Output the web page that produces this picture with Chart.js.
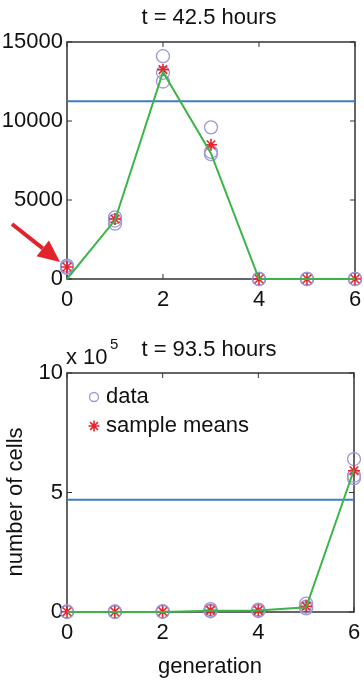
<!DOCTYPE html>
<html><head><meta charset="utf-8">
<script src="https://cdn.jsdelivr.net/npm/chart.js@4.4.1/dist/chart.umd.min.js"></script>
<style>
html,body{margin:0;padding:0;background:#fff;overflow:hidden}
#wrap{position:relative;width:364px;height:682px}
#c1{position:absolute;left:0;top:0;width:364px;height:320px}
#c2{position:absolute;left:0;top:300px;width:364px;height:382px}
</style></head><body>
<div id="wrap"><canvas id="c1" width="364" height="320"></canvas><canvas id="c2" width="364" height="382"></canvas></div>
<script>
// ---------- data ----------
const generations = [0, 1, 2, 3, 4, 5, 6];
const xTicks = [0, 2, 4, 6];

// top panel: t = 42.5 hours
const topTitle = 't = 42.5 hours';
const topYTicks = [0, 5000, 10000, 15000];
const topRep1 = [700, 3500, 14100, 9600, 0, 0, 0];
const topRep2 = [850, 3900, 13050, 8050, 0, 0, 0];
const topRep3 = [750, 3700, 12500, 7900, 0, 0, 0];
const topMeans = [760, 3800, 13250, 8500, 0, 0, 0];
const topModel = [0, 3730, 13100, 7950, 0, 0, 0];
const topLevel = [11250];

// bottom panel: t = 93.5 hours (units of 10^5)
const botTitle = 't = 93.5 hours';
const botYTicks = [0, 5, 10];
const botRep1 = [0.02, 0.02, 0.03, 0.12, 0.10, 0.35, 6.40];
const botRep2 = [0.01, 0.01, 0.02, 0.06, 0.06, 0.22, 5.70];
const botRep3 = [0.00, 0.00, 0.01, 0.03, 0.04, 0.15, 5.60];
const botMeans = [0.01, 0.01, 0.02, 0.07, 0.07, 0.24, 5.91];
const botModel = [0.00, 0.00, 0.00, 0.05, 0.06, 0.20, 5.95];
const botLevel = [4.7];

const legendLabels = ['data', 'sample means'];
const yTitle = 'number of cells';
const xTitle = 'generation';

// ---------- helpers ----------
const FONT = '"Liberation Sans", Arial, Helvetica, sans-serif';
const C_CIRCLE = '#9a9ad8', C_STAR = '#e8232b', C_GREEN = '#3db449', C_BLUE = '#3b7cc4', C_AXIS = '#333';

function pts(vals) { return vals.map((v, i) => ({x: generations[i], y: v})); }
function repPts(reps) { let out = []; reps.forEach(r => out = out.concat(pts(r))); return out; }
function levelPts(lvl) { return [{x: 0, y: lvl[0]}, {x: 6, y: lvl[0]}]; }

function datasets(reps, means, model, level) {
  return [
    {type: 'line', data: pts(model), borderColor: C_GREEN, borderWidth: 2, pointRadius: 0, tension: 0, clip: false},
    {type: 'line', data: pts(means), showLine: false, pointStyle: 'star', pointRadius: 6, borderColor: C_STAR, backgroundColor: C_STAR, pointBorderWidth: 1.6, clip: false},
    {type: 'line', data: repPts(reps), showLine: false, pointStyle: 'circle', pointRadius: 6.5, borderColor: C_CIRCLE, backgroundColor: 'rgba(0,0,0,0)', pointBorderWidth: 1.3, clip: false},
    {type: 'line', data: levelPts(level), borderColor: C_BLUE, borderWidth: 2, pointRadius: 0, tension: 0}
  ];
}

const framePlugin = {
  id: 'frame',
  beforeDatasetsDraw(chart) {
    const {ctx, chartArea: a, scales} = chart;
    ctx.save();
    ctx.strokeStyle = C_AXIS;
    ctx.lineWidth = 1.5;
    ctx.strokeRect(a.left, a.top, a.right - a.left, a.bottom - a.top);
    ctx.lineWidth = 1;
    ctx.beginPath();
    xTicks.forEach(v => {
      const x = scales.x.getPixelForValue(v);
      ctx.moveTo(x, a.bottom); ctx.lineTo(x, a.bottom - 5);
      ctx.moveTo(x, a.top); ctx.lineTo(x, a.top + 5);
    });
    chart.options.yTickValues.forEach(v => {
      const y = scales.y.getPixelForValue(v);
      ctx.moveTo(a.left, y); ctx.lineTo(a.left + 5, y);
      ctx.moveTo(a.right, y); ctx.lineTo(a.right - 5, y);
    });
    ctx.stroke();
    ctx.restore();
  }
};

function options(ymax, yTicks, padTop, padRight, xH) {
  return {
    responsive: false, animation: false, events: [],
    yTickValues: yTicks,
    layout: {padding: {top: padTop, right: padRight, left: 0, bottom: 0}},
    plugins: {legend: {display: false}, tooltip: {enabled: false}, title: {display: false}},
    scales: {
      x: {type: 'linear', min: 0, max: 6,
        afterBuildTicks: s => { s.ticks = xTicks.map(v => ({value: v})); },
        afterFit: s => { s.height = xH; s.paddingRight = 0; s.paddingLeft = 0; },
        grid: {display: false, drawTicks: false}, border: {display: false},
        ticks: {autoSkip: false, maxRotation: 0, padding: 8, color: '#111', font: {size: 22, family: FONT},
          callback: v => String(v)}},
      y: {type: 'linear', min: 0, max: ymax,
        afterBuildTicks: s => { s.ticks = yTicks.map(v => ({value: v})); },
        afterFit: s => { s.width = 67; },
        grid: {display: false, drawTicks: false}, border: {display: false},
        ticks: {padding: 4, color: '#111', font: {size: 22, family: FONT},
          callback: v => String(v)}}
    }
  };
}

// ---------- top chart ----------
const topDecor = {
  id: 'topDecor',
  afterDraw(chart) {
    const ctx = chart.ctx;
    ctx.save();
    ctx.fillStyle = '#111';
    ctx.font = '22px ' + FONT;
    ctx.textAlign = 'center'; ctx.textBaseline = 'middle';
    ctx.fillText(topTitle, 209, 18);
    // red arrow
    ctx.strokeStyle = '#e3232b'; ctx.fillStyle = '#e3232b';
    ctx.lineWidth = 4;
    const x0 = 12, y0 = 224, x1 = 60, y1 = 262;
    const ang = Math.atan2(y1 - y0, x1 - x0);
    const hl = 22, hw = 10;
    const bx = x1 - hl * Math.cos(ang), by = y1 - hl * Math.sin(ang);
    ctx.beginPath(); ctx.moveTo(x0, y0); ctx.lineTo(bx, by); ctx.stroke();
    ctx.beginPath();
    ctx.moveTo(x1, y1);
    ctx.lineTo(bx + hw * Math.sin(ang), by - hw * Math.cos(ang));
    ctx.lineTo(bx - hw * Math.sin(ang), by + hw * Math.cos(ang));
    ctx.closePath(); ctx.fill();
    ctx.restore();
  }
};

new Chart(document.getElementById('c1'), {
  type: 'line',
  data: {datasets: datasets([topRep1, topRep2, topRep3], topMeans, topModel, topLevel)},
  options: options(15000, topYTicks, 42, 9, 41),
  plugins: [framePlugin, topDecor]
});

// ---------- bottom chart ----------
const botDecor = {
  id: 'botDecor',
  afterDraw(chart) {
    const ctx = chart.ctx;
    ctx.save();
    ctx.fillStyle = '#111';
    ctx.font = '22px ' + FONT;
    ctx.textAlign = 'center'; ctx.textBaseline = 'middle';
    ctx.fillText(botTitle, 209, 50);
    ctx.fillText(xTitle, 210, 367);
    // x 10^5
    ctx.textAlign = 'left';
    ctx.fillText('x 10', 66, 58);
    ctx.font = '15px ' + FONT;
    ctx.fillText('5', 110, 45);
    // y title
    ctx.font = '22px ' + FONT;
    ctx.translate(16, 202);
    ctx.rotate(-Math.PI / 2);
    ctx.textAlign = 'center';
    ctx.fillText(yTitle, 0, 0);
    ctx.restore();
    // legend
    ctx.save();
    ctx.font = '22px ' + FONT;
    ctx.fillStyle = '#111';
    ctx.textAlign = 'left'; ctx.textBaseline = 'middle';
    ctx.strokeStyle = C_CIRCLE; ctx.lineWidth = 1.3;
    ctx.beginPath(); ctx.arc(94, 97, 4.5, 0, Math.PI * 2); ctx.stroke();
    ctx.fillText(legendLabels[0], 106, 97);
    ctx.strokeStyle = C_STAR;
    ctx.beginPath();
    for (let k = 0; k < 4; k++) {
      const t = k * Math.PI / 4;
      ctx.moveTo(94 - 5.5 * Math.cos(t), 126 - 5.5 * Math.sin(t));
      ctx.lineTo(94 + 5.5 * Math.cos(t), 126 + 5.5 * Math.sin(t));
    }
    ctx.lineWidth = 1.6; ctx.stroke();
    ctx.fillText(legendLabels[1], 106, 126);
    ctx.restore();
  }
};

new Chart(document.getElementById('c2'), {
  type: 'line',
  data: {datasets: datasets([botRep1, botRep2, botRep3], botMeans, botModel, botLevel)},
  options: options(10, botYTicks, 73, 10, 70),
  plugins: [framePlugin, botDecor]
});
</script>
</body></html>
